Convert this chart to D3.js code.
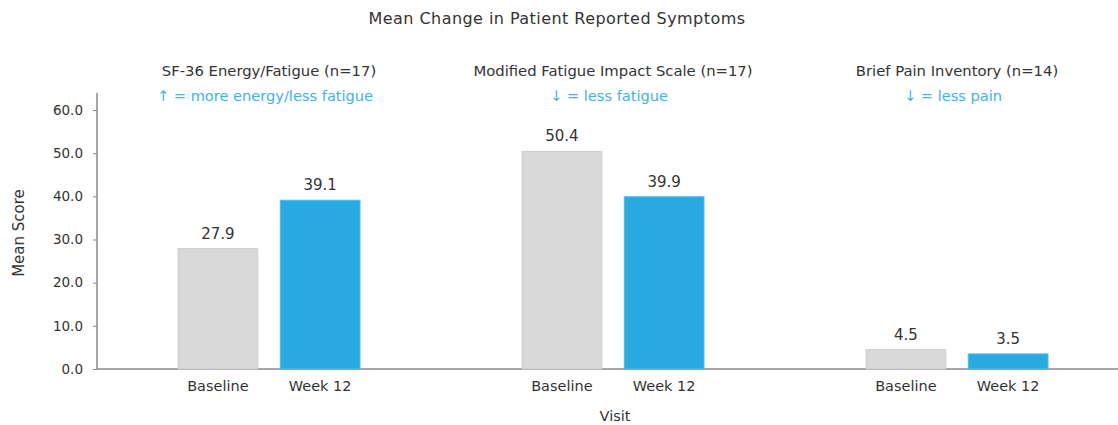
<!DOCTYPE html>
<html>
<head>
<meta charset="utf-8">
<script src="https://cdn.jsdelivr.net/npm/d3@7"></script>
<style>
  body { margin: 0; background: #fff; }
  svg text { font-family: "DejaVu Sans", Verdana, sans-serif; fill: #333; }
</style>
</head>
<body>
<svg id="chart" width="1118" height="425"></svg>
<script>
// Instruments and their headers
const instruments = ["SF-36 Energy/Fatigue (n=17)", "Modified Fatigue Impact Scale (n=17)", "Brief Pain Inventory (n=14)"];
const directionNotes = ["\u2191 = more energy/less fatigue", "\u2193 = less fatigue", "\u2193 = less pain"];
const visits = ["Baseline", "Week 12"];
// Mean scores per instrument: [Baseline, Week 12]
const baselineValues = [27.9, 50.4, 4.5];
const week12Values = [39.1, 39.9, 3.5];
const yTicks = [0, 10, 20, 30, 40, 50, 60];

const svg = d3.select("#chart");
const axisColor = "#8a8a8a";
const colors = { "Baseline": "#d8d8d8", "Week 12": "#29a9e1" };
const edges = { "Baseline": "#cfcfcf", "Week 12": "#4fbbeb" };

const y = d3.scaleLinear().domain([0, 60]).range([369, 110]);
const xGroup = d3.scaleBand().domain(instruments).range([97, 1129]).paddingInner(0).paddingOuter(0);
const xVisit = d3.scaleBand().domain(visits).range([0, 182]).paddingInner(0.22).paddingOuter(0);

const data = instruments.map((name, i) => ({
  name, note: directionNotes[i],
  values: [{ visit: "Baseline", v: baselineValues[i] }, { visit: "Week 12", v: week12Values[i] }]
}));

// Title
svg.append("text").attr("x", 557).attr("y", 24).attr("text-anchor", "middle")
  .style("font-size", "16px").style("letter-spacing", "0.45px")
  .text("Mean Change in Patient Reported Symptoms");

// Y axis
const yAxis = d3.axisLeft(y).tickValues(yTicks).tickFormat(d3.format(".1f")).tickSize(4).tickPadding(10);
const gy = svg.append("g").attr("transform", "translate(97,0)").call(yAxis);
gy.select(".domain").remove();
gy.selectAll(".tick line").attr("stroke", axisColor);
gy.selectAll(".tick text").style("font-size", "13.5px").style("fill", "#333");
gy.append("line").attr("x1", 0).attr("x2", 0).attr("y1", y(64)).attr("y2", y(0))
  .attr("stroke", axisColor).attr("stroke-width", 1.5);

// X baseline
svg.append("line").attr("x1", 97).attr("x2", 1118).attr("y1", y(0)).attr("y2", y(0))
  .attr("stroke", axisColor).attr("stroke-width", 1.5);

// Axis titles
svg.append("text").attr("transform", `translate(24,233) rotate(-90)`)
  .attr("text-anchor", "middle").style("font-size", "15px").text("Mean Score");
svg.append("text").attr("x", 615).attr("y", 421)
  .attr("text-anchor", "middle").style("font-size", "14.5px").text("Visit");

const groups = svg.selectAll("g.group").data(data).join("g").attr("class", "group")
  .attr("transform", d => `translate(${xGroup(d.name) + (xGroup.bandwidth() - 182) / 2},0)`);

// Panel headers
groups.append("text").attr("x", 91).attr("y", 76).attr("text-anchor", "middle")
  .style("font-size", "14.8px").text(d => d.name);
groups.append("text").attr("x", 87).attr("y", 101).attr("text-anchor", "middle")
  .style("font-size", "14.6px").style("fill", "#45b1e4").text(d => d.note);

// Bars
groups.selectAll("rect").data(d => d.values).join("rect")
  .attr("x", d => xVisit(d.visit)).attr("width", xVisit.bandwidth())
  .attr("y", d => y(d.v)).attr("height", d => y(0) - y(d.v))
  .attr("fill", d => colors[d.visit])
  .attr("stroke", d => edges[d.visit]).attr("stroke-width", 1);

// Value labels
groups.selectAll("text.val").data(d => d.values).join("text").attr("class", "val")
  .attr("x", d => xVisit(d.visit) + xVisit.bandwidth() / 2).attr("y", d => y(d.v) - 10)
  .attr("text-anchor", "middle").style("font-size", "15px").text(d => d.v.toFixed(1));

// Category labels
groups.selectAll("text.cat").data(d => d.values).join("text").attr("class", "cat")
  .attr("x", d => xVisit(d.visit) + xVisit.bandwidth() / 2).attr("y", 391)
  .attr("text-anchor", "middle").style("font-size", "14.5px").text(d => d.visit);
</script>
</body>
</html>
